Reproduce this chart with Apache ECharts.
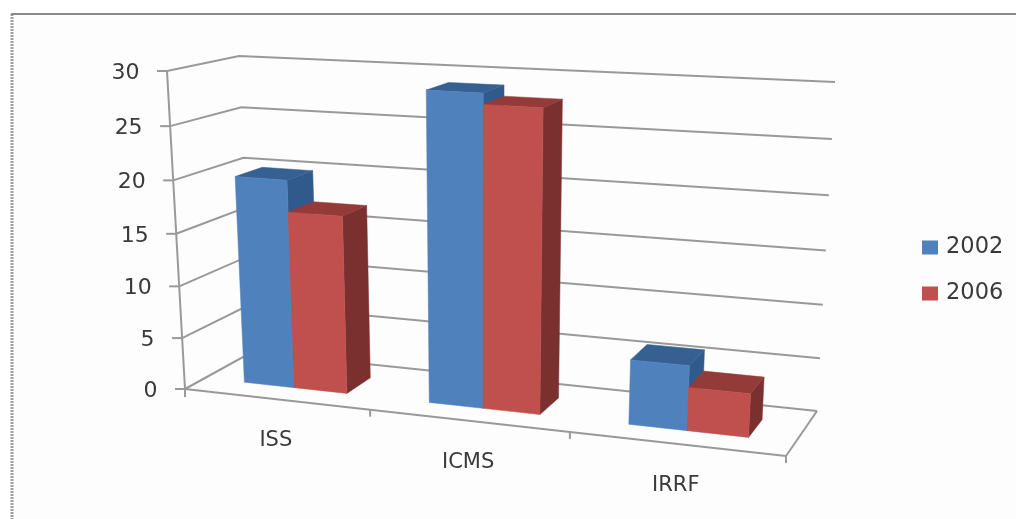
<!DOCTYPE html>
<html>
<head>
<meta charset="utf-8">
<style>html,body{margin:0;padding:0;background:#fff}#chart{width:1016px;height:519px}</style>
<script src="https://cdn.jsdelivr.net/npm/echarts@6/dist/echarts.min.js"></script>
</head>
<body>
<div id="chart"></div>
<script>
// Revenue by tax and year, drawn as a clustered column chart in perspective.
const categories = ['ISS', 'ICMS', 'IRRF'];
const yTicks = [0, 5, 10, 15, 20, 25, 30];
const series2002 = [20, 29, 6];
const series2006 = [17, 28, 4];

// Screen positions of the eight corners of the plot box (front/back, left/right, bottom/top).
const box = {
  flb: [185, 389], flt: [167, 71], frb: [786, 456], frt: [805, 106],
  blb: [252, 352], blt: [239, 56], brb: [817, 411], brt: [835, 82]
};
const foreshortenU = 1.123, foreshortenV = 1.049;
const barDepth = [0.3, 0.7];
const lineColor = '#999999';
const textColor = '#3a3a3a';
const tickFont = '22px "DejaVu Sans"';
const categoryFont = '21px "DejaVu Sans"';

const warp = (t, c) => t / (c + (1 - c) * t);
const lerp = (a, b, t) => [a[0] + (b[0] - a[0]) * t, a[1] + (b[1] - a[1]) * t];

// Maps normalised plot coordinates to the screen: u across, v up, w into the depth.
function project(u, v, w) {
  const uu = warp(u, foreshortenU), vv = warp(v, foreshortenV);
  const fb = lerp(box.flb, box.frb, uu), ft = lerp(box.flt, box.frt, uu);
  const bb = lerp(box.blb, box.brb, uu), bt = lerp(box.blt, box.brt, uu);
  return lerp(lerp(fb, ft, vv), lerp(bb, bt, vv), w);
}
const poly = (points, fill) => ({
  type: 'polygon', shape: { points },
  style: { fill, stroke: fill, lineWidth: 0.5 }
});
const path = (points) => ({
  type: 'polyline', shape: { points },
  style: { stroke: lineColor, lineWidth: 2, fill: 'none' }
});
const label = (text, x, y, align, font) => ({
  type: 'text',
  style: { text, x, y, align, verticalAlign: 'middle', font, fill: textColor }
});
function normalised(api, params, cat, val) {
  const c = params.coordSys, pt = api.coord([cat, val]);
  return [(pt[0] - c.x) / c.width, (c.y + c.height - pt[1]) / c.height];
}

// One box per value: side and top faces in the darker shades, then the front face.
function barRenderer(start, end, front, side, top) {
  return function (params, api) {
    const uv = normalised(api, params, api.value(0), api.value(1));
    const u0 = uv[0] + start, u1 = uv[0] + end, v = uv[1];
    const [w0, w1] = barDepth;
    return {
      type: 'group',
      children: [
        poly([project(u1, 0, w0), project(u1, 0, w1), project(u1, v, w1), project(u1, v, w0)], side),
        poly([project(u0, v, w0), project(u1, v, w0), project(u1, v, w1), project(u0, v, w1)], top),
        poly([project(u0, 0, w0), project(u1, 0, w0), project(u1, v, w0), project(u0, v, w0)], front)
      ]
    };
  };
}

// Gridline on the side and back walls for each tick, with its stub and label.
function wallRenderer(params, api) {
  const tick = api.value(1);
  const v = normalised(api, params, 0, tick)[1];
  const a = project(0, v, 0);
  const children = [
    path([a, project(0, v, 1), project(1, v, 1)]),
    path([[a[0] - 10, a[1]], a]),
    label(String(tick), a[0] - 27.5, a[1] + 2, 'right', tickFont)
  ];
  return { type: 'group', children };
}

// Front edge of the floor, category ticks and category names.
function floorRenderer(params, api) {
  const i = api.value(0);
  const slot = api.size([1, 0])[0] / params.coordSys.width;
  const uc = normalised(api, params, i, 0)[0];
  const u0 = uc - slot / 2, u1 = uc + slot / 2;
  const end = project(u1, 0, 0), start = project(u0, 0, 0), mid = project(uc, 0, 0);
  const children = [
    path([start, end]),
    path([end, [end[0], end[1] + 7]]),
    label(categories[i], mid[0], mid[1] + 41.5, 'center', categoryFont)
  ];
  if (i === 0) {
    children.push(path([project(0, 1, 0), start, [start[0], start[1] + 8]]));
  }
  if (i === categories.length - 1) {
    children.push(path([end, project(1, 0, 1)]));
  }
  return { type: 'group', children };
}

const chart = echarts.init(document.getElementById('chart'));
chart.setOption({
  animation: false,
  backgroundColor: '#ffffff',
  grid: { left: 185, top: 71, width: 600, height: 318 },
  xAxis: { type: 'category', data: categories, show: false },
  yAxis: { type: 'value', min: 0, max: 30, interval: 5, show: false },
  legend: {
    data: ['2002', '2006'],
    orient: 'vertical',
    left: 917,
    top: 231,
    icon: 'rect',
    itemWidth: 16,
    itemHeight: 14,
    itemGap: 23,
    textStyle: { fontSize: 22.5, fontFamily: 'DejaVu Sans', color: textColor, padding: [0, 0, 0, 3] }
  },
  graphic: [
    { type: 'rect', silent: true, z: -1, shape: { x: 12, y: 14, width: 1004, height: 505 }, style: { fill: '#fdfdfd' } },
    { type: 'line', silent: true, z: -1, shape: { x1: 12, y1: 14, x2: 12, y2: 519 }, style: { stroke: '#a0a0a0', lineWidth: 3, lineDash: [2, 1] } },
    { type: 'line', silent: true, z: -1, shape: { x1: 11, y1: 14, x2: 1016, y2: 14 }, style: { stroke: '#8a8a8a', lineWidth: 2 } }
  ],
  series: [
    { name: 'walls', type: 'custom', renderItem: wallRenderer, silent: true,
      data: yTicks.map((t) => [0, t]), encode: { x: 0, y: 1 } },
    { name: 'floor', type: 'custom', renderItem: floorRenderer, silent: true,
      data: categories.map((c, i) => [i, 0]), encode: { x: 0, y: 1 } },
    { name: '2002', type: 'custom', itemStyle: { color: '#4f81bd' },
      renderItem: barRenderer(-0.0925, 0, '#4f81bd', '#305a8c', '#376092'),
      data: series2002.map((v, i) => [i, v]), encode: { x: 0, y: 1 } },
    { name: '2006', type: 'custom', itemStyle: { color: '#c0504d' },
      renderItem: barRenderer(0, 0.0955, '#c0504d', '#7a302e', '#943a38'),
      data: series2006.map((v, i) => [i, v]), encode: { x: 0, y: 1 } }
  ]
});
</script>
</body>
</html>
